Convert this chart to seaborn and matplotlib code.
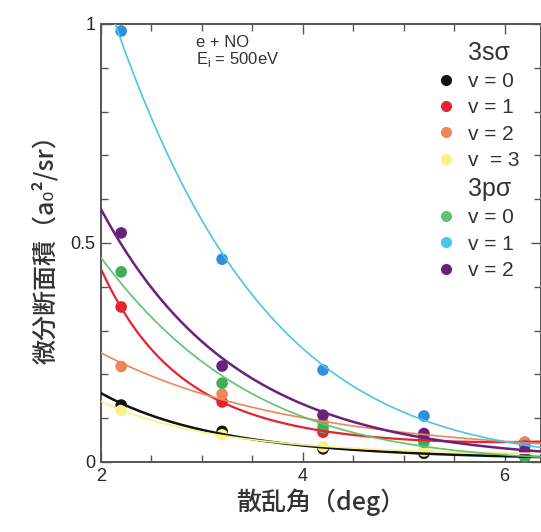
import numpy as np
import pandas as pd
import matplotlib
matplotlib.use("Agg")
import matplotlib.pyplot as plt
from matplotlib.lines import Line2D
from matplotlib.ticker import MultipleLocator
import seaborn as sns

# scattering angles (deg)
angles = [2.2, 3.2, 4.2, 5.2, 6.2]

# 3s sigma, v = 0..3
s_v0 = [0.130, 0.070, 0.030, 0.020, 0.012]
s_v1 = [0.354, 0.137, 0.068, 0.052, 0.045]
s_v2 = [0.218, 0.155, 0.090, 0.060, 0.045]
s_v3 = [0.118, 0.062, 0.035, 0.025, 0.020]
# 3p sigma, v = 0..2
p_v0 = [0.434, 0.180, 0.078, 0.045, 0.012]
p_v1 = [0.984, 0.463, 0.210, 0.105, 0.037]
p_v2 = [0.523, 0.219, 0.107, 0.065, 0.025]

ytick_vals = [0, 0.5, 1]
ytick_labels = ["0", "0.5", "1"]

series = [
    ("3sσ", "v = 0", s_v0, "#111111", "#111111", 1.8),
    ("3sσ", "v = 1", s_v1, "#e8222e", "#e8222e", 1.6),
    ("3sσ", "v = 2", s_v2, "#f08558", "#f08558", 1.2),
    ("3sσ", "v  = 3", s_v3, "#f7f28a", "#f7f28a", 1.2),
    ("3pσ", "v = 0", p_v0, "#5fc46c", "#3fae55", 1.2),
    ("3pσ", "v = 1", p_v1, "#4cc4ef", "#2f8fdc", 1.2),
    ("3pσ", "v = 2", p_v2, "#6a2179", "#6a2179", 1.8),
]

sns.set_style("ticks")
plt.rcParams["font.family"] = ["Liberation Sans", "Noto Sans CJK JP", "DejaVu Sans"]

fig = plt.figure(figsize=(5.41, 5.32), dpi=100)
ax = fig.add_axes([0.1867, 0.1316, 0.8133, 0.8233])

xmin, xmax = 2, 6.36
x_fit = np.linspace(xmin, xmax, 200)

for state, lab, vals, lc, pc, lw in series:
    df = pd.DataFrame({"angle": angles, "dcs": vals})
    sns.scatterplot(data=df, x="angle", y="dcs", color=pc, s=70,
                    edgecolor="none", ax=ax, zorder=3)
    # smooth fit through the measured points (log-quadratic)
    coef = np.polyfit(angles, np.log(vals), 2)
    fit = pd.DataFrame({"angle": x_fit, "dcs": np.exp(np.polyval(coef, x_fit))})
    sns.lineplot(data=fit, x="angle", y="dcs", color=lc, lw=lw, ax=ax, zorder=4)

ax.set_xlim(xmin, xmax)
ax.set_ylim(0, 1)
ax.xaxis.set_major_locator(MultipleLocator(2))
ax.xaxis.set_minor_locator(MultipleLocator(0.5))
ax.set_yticks(ytick_vals)
ax.set_yticklabels(ytick_labels)
ax.yaxis.set_minor_locator(MultipleLocator(0.1))
ax.tick_params(which="both", direction="in", top=True, right=True,
               labelsize=13, color="#555555", pad=4)
ax.tick_params(which="major", length=7, width=1)
ax.tick_params(which="minor", length=5, width=1)
for sp in ax.spines.values():
    sp.set_color("#555555")
    sp.set_linewidth(1.4)

cjk = ["Noto Sans CJK JP", "DejaVu Sans"]
ax.set_xlabel("散乱角（deg）", fontsize=18, family=cjk, fontweight="medium",
              color="#333333", labelpad=3)
ax.set_ylabel("微分断面積（a₀²/sr）", fontsize=18, family=cjk, fontweight="medium",
              color="#333333", labelpad=8)

ax.text(0.215, 0.975, "e + NO", transform=ax.transAxes, fontsize=12,
        color="#333333", va="top")
ax.text(0.215, 0.94, "E$_\\mathregular{i}$ = 500eV", transform=ax.transAxes,
        fontsize=12, color="#333333", va="top")

# legend with group headers
blank = Line2D([], [], linestyle="none", marker=None)
handles, labels = [], []
for head in ["3sσ", "3pσ"]:
    handles.append(blank)
    labels.append(head)
    for state, lab, vals, lc, pc, lw in series:
        if state == head:
            handles.append(Line2D([], [], linestyle="none", marker="o",
                                  markersize=8, color=lc, markeredgecolor="none"))
            labels.append(lab)
leg = ax.legend(handles, labels, loc="upper right", bbox_to_anchor=(0.99, 1.0),
                frameon=False, fontsize=15, handlelength=1.0, handletextpad=0.6,
                labelspacing=0.35, borderpad=0.3)
for t in leg.get_texts():
    t.set_color("#333333")
    if "σ" in t.get_text():
        t.set_fontsize(18)
        t.set_family(["Liberation Sans", "DejaVu Sans"])

fig.savefig("out.png", dpi=100)
